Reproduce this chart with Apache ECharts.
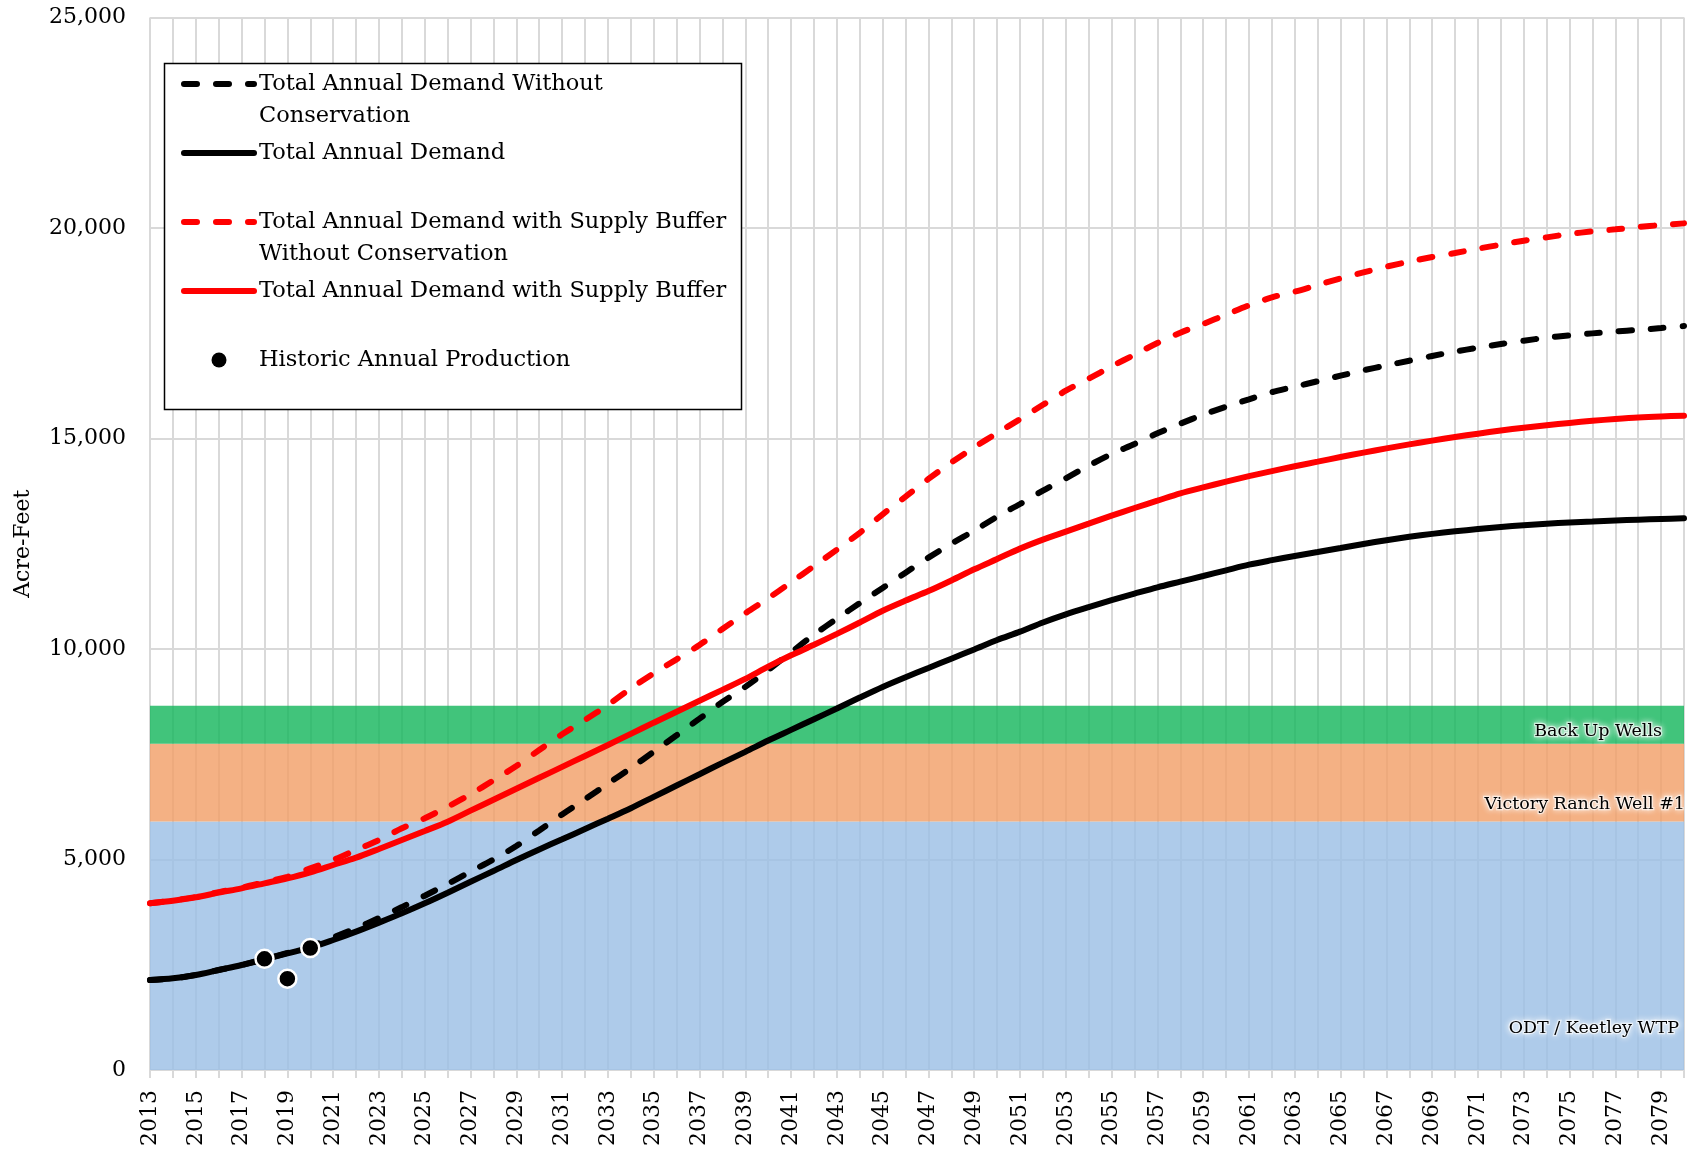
<!DOCTYPE html>
<html>
<head>
<meta charset="utf-8">
<script src="https://cdn.jsdelivr.net/npm/echarts@6/dist/echarts.min.js"></script>
<style>
html, body { margin: 0; padding: 0; background: #ffffff; }
#chart { width: 1698px; height: 1150px; }
</style>
</head>
<body>
<div id="chart"></div>
<script>
// ---------- DATA ----------
const years = ['2013','2014','2015','2016','2017','2018','2019','2020','2021','2022',
  '2023','2024','2025','2026','2027','2028','2029','2030','2031','2032',
  '2033','2034','2035','2036','2037','2038','2039','2040','2041','2042',
  '2043','2044','2045','2046','2047','2048','2049','2050','2051','2052',
  '2053','2054','2055','2056','2057','2058','2059','2060','2061','2062',
  '2063','2064','2065','2066','2067','2068','2069','2070','2071','2072',
  '2073','2074','2075','2076','2077','2078','2079','2080'];

const seriesNames = [
  'Total Annual Demand Without Conservation',
  'Total Annual Demand',
  'Total Annual Demand with Supply Buffer Without Conservation',
  'Total Annual Demand with Supply Buffer',
  'Historic Annual Production'
];

const legendLabels = {
  'Total Annual Demand Without Conservation': '\nTotal Annual Demand Without\nConservation',
  'Total Annual Demand': '\nTotal Annual Demand\n',
  'Total Annual Demand with Supply Buffer Without Conservation': '\nTotal Annual Demand with Supply Buffer\nWithout Conservation',
  'Total Annual Demand with Supply Buffer': '\nTotal Annual Demand with Supply Buffer\n',
  'Historic Annual Production': '\nHistoric Annual Production\n'
};

// Total Annual Demand Without Conservation (black dashed)
const demandNoCons = [2138,2177,2257,2375,2494,2635,2780,2935,3150,3370,
  3610,3870,4140,4420,4710,5000,5320,5690,6070,6430,
  6800,7170,7560,7950,8345,8740,9100,9500,9920,10340,
  10720,11090,11450,11813,12170,12502,12811,13143,13444,13761,
  14054,14355,14632,14869,15123,15352,15566,15756,15930,16100,
  16231,16360,16492,16620,16735,16848,16960,17065,17157,17245,
  17323,17395,17450,17497,17540,17580,17624,17672];

// Total Annual Demand (black solid)
const demand = [2138,2177,2257,2375,2494,2629,2771,2905,3088,3286,
  3500,3722,3960,4212,4473,4727,4990,5240,5480,5725,
  5970,6219,6488,6757,7026,7296,7557,7826,8079,8333,
  8586,8847,9100,9330,9550,9770,9990,10214,10412,10630,
  10823,10995,11160,11314,11465,11600,11734,11869,12003,12110,
  12210,12305,12400,12495,12585,12665,12735,12795,12850,12900,
  12940,12975,13005,13030,13055,13072,13088,13104];

// Total Annual Demand with Supply Buffer Without Conservation (red dashed)
const bufferNoCons = [3960,4030,4110,4225,4330,4460,4590,4790,4988,5226,
  5463,5741,5979,6254,6550,6880,7220,7601,7974,8314,
  8670,9066,9422,9755,10095,10475,10848,11204,11584,11971,
  12360,12760,13200,13620,14040,14430,14790,15130,15460,15800,
  16135,16420,16713,16990,17268,17514,17720,17942,18163,18353,
  18488,18646,18804,18946,19081,19200,19311,19406,19509,19604,
  19699,19778,19857,19920,19968,20023,20070,20110];

// Total Annual Demand with Supply Buffer (red solid)
const bufferDemand = [3960,4022,4101,4212,4315,4434,4553,4695,4869,5043,
  5249,5463,5677,5898,6160,6420,6680,6940,7200,7460,
  7720,7985,8250,8510,8770,9030,9290,9580,9850,10100,
  10360,10630,10910,11150,11375,11627,11893,12138,12384,12597,
  12787,12977,13167,13349,13523,13698,13840,13975,14105,14225,
  14340,14450,14560,14665,14765,14860,14950,15035,15115,15190,
  15255,15315,15370,15420,15463,15500,15525,15542];

// Historic Annual Production (dots)
const histYears = ['2018','2019','2020'];
const histValues = [2640, 2170, 2900];

// Supply bands
const bandNames = ['ODT / Keetley WTP', 'Victory Ranch Well #1', 'Back Up Wells'];
const bandLower = [0, 5900, 7750];
const bandUpper = [5900, 7750, 8650];
const bandColors = ['rgba(156,192,229,0.82)', 'rgba(242,160,105,0.82)', 'rgba(23,183,94,0.82)'];
const bandLabelOffsets = [[0, 83], [6, 22], [-17, 7]];

const yTicks = { min: 0, max: 25000, interval: 5000 };

// ---------- CHART ----------
const FONT = 'DejaVu Serif';
const GRID = '#d9d9d9';
const chart = echarts.init(document.getElementById('chart'), null, { renderer: 'canvas' });

const bandData = bandNames.map((n, i) => [
  {
    name: n,
    yAxis: bandLower[i],
    itemStyle: { color: bandColors[i] },
    label: { offset: bandLabelOffsets[i] }
  },
  { yAxis: bandUpper[i] }
]);

const legendData = seriesNames.map((n, i) => i < 4
  ? { name: n, itemStyle: { opacity: 0 } }
  : { name: n, itemStyle: { color: '#000', borderWidth: 0, opacity: 1 } });

const option = {
  animation: false,
  backgroundColor: '#ffffff',
  grid: { left: 150, right: 14, top: 17.5, bottom: 80, containLabel: false, outerBoundsMode: 'none' },
  xAxis: {
    type: 'category',
    data: years,
    boundaryGap: false,
    axisLine: { lineStyle: { color: GRID, width: 2 } },
    axisTick: { show: true, interval: 0, length: 8, lineStyle: { color: GRID, width: 2 } },
    axisLabel: { interval: 1, rotate: 90, margin: 20, fontFamily: FONT, fontSize: 22, color: '#000' },
    splitLine: { show: true, interval: 0, lineStyle: { color: GRID, width: 2 } }
  },
  yAxis: {
    type: 'value',
    min: yTicks.min, max: yTicks.max, interval: yTicks.interval,
    name: 'Acre-Feet',
    nameLocation: 'middle',
    nameGap: 116,
    nameMoveOverlap: false,
    nameTextStyle: { fontFamily: FONT, fontSize: 22, color: '#000' },
    axisLine: { show: false },
    axisTick: { show: false },
    axisLabel: {
      margin: 24, fontFamily: FONT, fontSize: 22, color: '#000',
      formatter: v => v.toLocaleString('en-US')
    },
    splitLine: { lineStyle: { color: GRID, width: 2 } }
  },
  legend: {
    data: legendData,
    orient: 'vertical',
    left: 181,
    top: 36,
    padding: 0,
    itemGap: -27,
    itemWidth: 70,
    itemHeight: 15,
    selectedMode: false,
    lineStyle: { width: 6 },
    textStyle: { fontFamily: FONT, fontSize: 22.5, color: '#000', lineHeight: 32 },
    formatter: n => legendLabels[n]
  },
  graphic: [{
    type: 'rect',
    z: 3,
    silent: true,
    shape: { x: 164.5, y: 63.5, width: 577, height: 346 },
    style: { fill: '#ffffff', stroke: '#000000', lineWidth: 1.5 }
  }],
  series: [
    {
      name: 'bands',
      type: 'line',
      data: [],
      symbol: 'none',
      markArea: {
        silent: true,
        label: {
          show: true,
          position: 'insideRight',
          fontFamily: FONT,
          fontSize: 17.5,
          color: '#000',
          textBorderColor: 'rgba(255,255,255,0.6)',
          textBorderWidth: 2.5,
          textShadowColor: '#ffffff',
          textShadowBlur: 6
        },
        data: bandData
      }
    },
    {
      name: seriesNames[0], type: 'line', data: demandNoCons,
      symbol: 'none', smooth: 0.3,
      lineStyle: { color: '#000', width: 6, type: [13, 19], cap: 'round' },
      itemStyle: { color: '#000' }
    },
    {
      name: seriesNames[1], type: 'line', data: demand,
      symbol: 'none', smooth: 0.3,
      lineStyle: { color: '#000', width: 6, cap: 'round' },
      itemStyle: { color: '#000' }
    },
    {
      name: seriesNames[2], type: 'line', data: bufferNoCons,
      symbol: 'none', smooth: 0.3,
      lineStyle: { color: '#ff0000', width: 6, type: [13, 19], cap: 'round' },
      itemStyle: { color: '#ff0000' }
    },
    {
      name: seriesNames[3], type: 'line', data: bufferDemand,
      symbol: 'none', smooth: 0.3,
      lineStyle: { color: '#ff0000', width: 6, cap: 'round' },
      itemStyle: { color: '#ff0000' }
    },
    {
      name: seriesNames[4], type: 'scatter',
      data: histYears.map((y, i) => [y, histValues[i]]),
      symbol: 'circle', symbolSize: 18,
      itemStyle: { color: '#000', borderColor: '#fff', borderWidth: 2.5, opacity: 1 },
      z: 5
    }
  ]
};

chart.setOption(option);
</script>
</body>
</html>
